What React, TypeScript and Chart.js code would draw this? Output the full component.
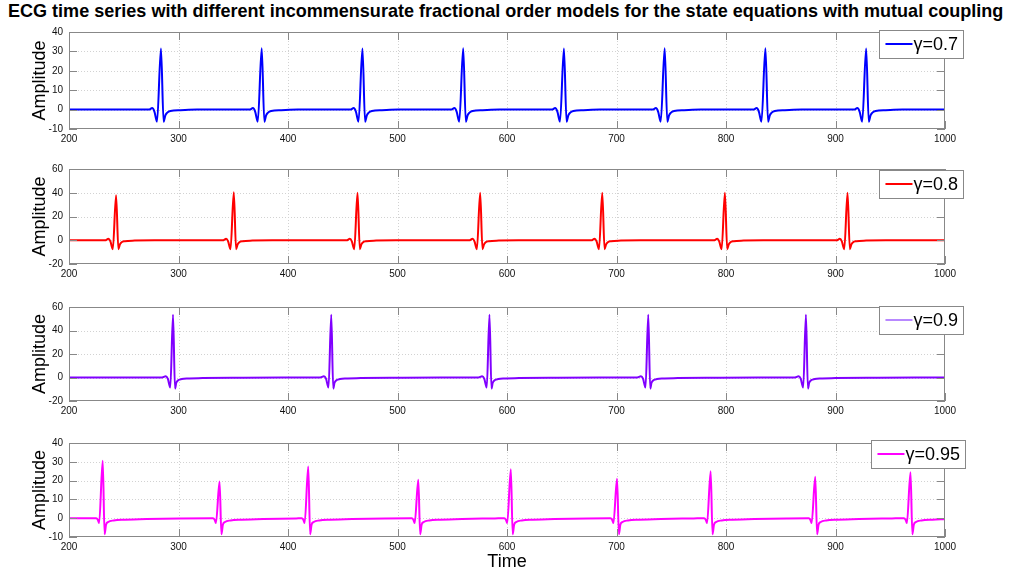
import React, { useEffect, useRef } from "react";
import { Chart, registerables } from "chart.js";

Chart.register(...registerables);

// ---------- data ----------
const xTickValues = [200, 300, 400, 500, 600, 700, 800, 900, 1000];

const blueTicks = [-10, 0, 10, 20, 30, 40];
const redTicks = [-20, 0, 20, 40, 60];
const purpleTicks = [-20, 0, 20, 40, 60];
const magentaTicks = [-10, 0, 10, 20, 30, 40];

const blueTime = [
  200,
  273, 276, 278, 280.4, 284, 286.4, 288, 289.5, 292.6, 301.7, 317,
  365, 368, 370, 372.4, 376, 378.4, 380, 381.5, 384.6, 393.7, 409,
  457, 460, 462, 464.4, 468, 470.4, 472, 473.5, 476.6, 485.7, 501,
  549, 552, 554, 556.4, 560, 562.4, 564, 565.5, 568.6, 577.7, 593,
  641, 644, 646, 648.4, 652, 654.4, 656, 657.5, 660.6, 669.7, 685,
  733, 736, 738, 740.4, 744, 746.4, 748, 749.5, 752.6, 761.7, 777,
  825, 828, 830, 832.4, 836, 838.4, 840, 841.5, 844.6, 853.7, 869,
  917, 920, 922, 924.4, 928, 930.4, 932, 933.5, 936.6, 945.7, 961,
  1000,
];
const blueAmp = [
  0,
  0, 0.8, -1, -6.2, 31.5, -6.3, -3, -1.7, -0.7, -0.3, 0,
  0, 0.8, -1, -6.2, 31.6, -6.3, -3, -1.7, -0.7, -0.3, 0,
  0, 0.8, -1, -6.2, 31.5, -6.3, -3, -1.7, -0.7, -0.3, 0,
  0, 0.8, -1, -6.2, 31.6, -6.3, -3, -1.7, -0.7, -0.3, 0,
  0, 0.8, -1, -6.2, 31.5, -6.3, -3, -1.7, -0.7, -0.3, 0,
  0, 0.8, -1, -6.2, 31.6, -6.3, -3, -1.7, -0.7, -0.3, 0,
  0, 0.8, -1, -6.2, 31.6, -6.3, -3, -1.7, -0.7, -0.3, 0,
  0, 0.8, -1, -6.2, 31.5, -6.3, -3, -1.7, -0.7, -0.3, 0,
  0,
];

const redTime = [
  200,
  233, 236, 237.8, 240, 243, 245.1, 246.5, 247.8, 251, 260, 278,
  340.5, 343.5, 345.3, 347.5, 350.5, 352.6, 354, 355.3, 358.5, 367.5, 385.5,
  453.5, 456.5, 458.3, 460.5, 463.5, 465.6, 467, 468.3, 471.5, 480.5, 498.5,
  565.5, 568.5, 570.3, 572.5, 575.5, 577.6, 579, 580.3, 583.5, 592.5, 610.5,
  677, 680, 681.8, 684, 687, 689.1, 690.5, 691.8, 695, 704, 722,
  789, 792, 793.8, 796, 799, 801.1, 802.5, 803.8, 807, 816, 834,
  901, 904, 905.8, 908, 911, 913.1, 914.5, 915.8, 919, 928, 946,
  1000,
];
const redAmp = [
  0,
  0, 1.2, -1, -7.5, 38, -7.5, -3.5, -1.8, -0.8, -0.3, 0,
  0, 1.2, -1, -7.5, 40.5, -7.5, -3.5, -1.8, -0.8, -0.3, 0,
  0, 1.2, -1, -7.5, 40, -7.5, -3.5, -1.8, -0.8, -0.3, 0,
  0, 1.2, -1, -7.5, 40, -7.5, -3.5, -1.8, -0.8, -0.3, 0,
  0, 1.2, -1, -7.5, 40, -7.5, -3.5, -1.8, -0.8, -0.3, 0,
  0, 1.2, -1, -7.5, 40, -7.5, -3.5, -1.8, -0.8, -0.3, 0,
  0, 1.2, -1, -7.5, 40, -7.5, -3.5, -1.8, -0.8, -0.3, 0,
  0,
];

const purpleTime = [
  200,
  285, 288.3, 290.2, 292.5, 295, 296.8, 298, 300, 303, 308, 322, 355, 395,
  429.5, 432.8, 434.7, 437, 439.5, 441.3, 442.5, 444.5, 447.5, 452.5, 466.5, 499.5, 539.5,
  574, 577.3, 579.2, 581.5, 584, 585.8, 587, 589, 592, 597, 611, 644, 684,
  719, 722.3, 724.2, 726.5, 729, 730.8, 732, 734, 737, 742, 756, 789, 829,
  863, 866.3, 868.2, 870.5, 873, 874.8, 876, 878, 881, 886, 900, 933, 973,
  1000,
];
const purpleAmp = [
  0,
  0, 1, -1, -8.6, 53.5, -9.4, -4.5, -2.2, -1.3, -0.8, -0.5, -0.2, 0,
  0, 1, -1, -8.6, 53.5, -9.4, -4.5, -2.2, -1.3, -0.8, -0.5, -0.2, 0,
  0, 1, -1, -8.6, 53.5, -9.4, -4.5, -2.2, -1.3, -0.8, -0.5, -0.2, 0,
  0, 1, -1, -8.6, 53.5, -9.4, -4.5, -2.2, -1.3, -0.8, -0.5, -0.2, 0,
  0, 1, -1, -8.6, 53.5, -9.4, -4.5, -2.2, -1.3, -0.8, -0.5, -0.2, 0,
  0,
];

const magentaTime = [
  200,
  224.8, 226.3, 227.5, 230.8, 232.5, 233.8, 235.8, 240.8, 250.8, 270.8, 300.8,
  331.5, 333, 334.2, 337.5, 339.2, 340.5, 342.5, 347.5, 357.5, 377.5, 407.5,
  412.5, 414, 415.2, 418.5, 420.2, 421.5, 423.5, 428.5, 438.5, 458.5, 488.5,
  513, 514.5, 515.7, 519, 520.7, 522, 524, 529, 539, 559, 589,
  597.5, 599, 600.2, 603.5, 605.2, 606.5, 608.5, 613.5, 623.5, 643.5, 673.5,
  694.5, 696, 697.2, 700.5, 702.2, 703.5, 705.5, 710.5, 720.5, 740.5, 770.5,
  780, 781.5, 782.7, 786, 787.7, 789, 791, 796, 806, 826, 856,
  875.5, 877, 878.2, 881.5, 883.2, 884.5, 886.5, 891.5, 901.5, 921.5, 951.5,
  962.5, 964, 965.2, 968.5, 970.2, 971.5, 973.5, 978.5, 988.5, 1000,
];
const magentaAmp = [
  0,
  0, -0.8, -2.6, 30.5, -8.5, -3.5, -2, -1.2, -0.8, -0.4, -0.1,
  0, -0.8, -2.6, 19.5, -8.5, -3.5, -2, -1.2, -0.8, -0.4, -0.1,
  0, -0.8, -2.6, 27.5, -8.5, -3.5, -2, -1.2, -0.8, -0.4, -0.1,
  0, -0.8, -2.6, 20.5, -8.5, -3.5, -2, -1.2, -0.8, -0.4, -0.1,
  0, -0.8, -2.6, 26, -8.5, -3.5, -2, -1.2, -0.8, -0.4, -0.1,
  0, -0.8, -2.6, 21, -8.5, -3.5, -2, -1.2, -0.8, -0.4, -0.1,
  0, -0.8, -2.6, 25, -8.5, -3.5, -2, -1.2, -0.8, -0.4, -0.1,
  0, -0.8, -2.6, 22, -8.5, -3.5, -2, -1.2, -0.8, -0.4, -0.1,
  0, -0.8, -2.6, 24.5, -8.5, -3.5, -2, -1.2, -0.8, -0.5,
];

const seriesLabels = ["γ=0.7", "γ=0.8", "γ=0.9", "γ=0.95"];
const titleText =
  "ECG time series with different incommensurate fractional order models for the state equations with mutual coupling";
const yAxisLabel = "Amplitude";
const xAxisLabel = "Time";

// ---------- layout / style ----------
const PAGE_W = 1010;
const PLOT_LEFT = 69;
const PLOT_RIGHT = 945;
const PAD_TOP = 10;
const X_AXIS_H = 20;

const panels = [
  { top: 30, bottom: 129, time: blueTime, amp: blueAmp, ticks: blueTicks, color: "#0000ff", legendColor: "#0000ff", legendLW: 2, label: seriesLabels[0], legendTop: 30, legendRight: 963 },
  { top: 167, bottom: 264, time: redTime, amp: redAmp, ticks: redTicks, color: "#ff0000", legendColor: "#ff0000", legendLW: 2, label: seriesLabels[1], legendTop: 170, legendRight: 963 },
  { top: 305, bottom: 401, time: purpleTime, amp: purpleAmp, ticks: purpleTicks, color: "#8000ff", legendColor: "#a060ff", legendLW: 1.5, label: seriesLabels[2], legendTop: 306, legendRight: 963 },
  { top: 441, bottom: 537, time: magentaTime, amp: magentaAmp, ticks: magentaTicks, color: "#ff00ff", legendColor: "#ff00ff", legendLW: 2, label: seriesLabels[3], legendTop: 440, legendRight: 965 },
];

const tickFont = { family: '"Liberation Sans Narrow", "Arial Narrow", Arial, sans-serif', size: 10 };
const AXIS_COLOR = "#888888";
const GRID_COLOR = "#d2d2d2";

function makePlugin(p: any) {
  return {
    id: "matlabDecor",
    beforeDatasetsDraw(chart: any) {
      const { ctx, chartArea: a, scales } = chart;
      const x = scales.x;
      const y = scales.y;
      ctx.save();
      ctx.strokeStyle = GRID_COLOR;
      ctx.lineWidth = 1;
      ctx.setLineDash([1, 2]);
      x.ticks.forEach((t: any) => {
        const px = Math.round(x.getPixelForValue(t.value)) + 0.5;
        if (px > a.left + 2 && px < a.right - 2) {
          ctx.beginPath();
          ctx.moveTo(px, a.top);
          ctx.lineTo(px, a.bottom);
          ctx.stroke();
        }
      });
      y.ticks.forEach((t: any) => {
        const py = Math.round(y.getPixelForValue(t.value)) + 0.5;
        if (py > a.top + 2 && py < a.bottom - 2) {
          ctx.beginPath();
          ctx.moveTo(a.left, py);
          ctx.lineTo(a.right, py);
          ctx.stroke();
        }
      });
      ctx.restore();
    },
    afterDatasetsDraw(chart: any) {
      const { ctx, chartArea: a, scales } = chart;
      const x = scales.x;
      const y = scales.y;
      ctx.save();
      // box
      ctx.strokeStyle = AXIS_COLOR;
      ctx.lineWidth = 1;
      ctx.setLineDash([]);
      ctx.strokeRect(a.left + 0.5, a.top + 0.5, a.right - a.left - 1, a.bottom - a.top - 1);
      // inside tick marks
      const TL = 8;
      ctx.beginPath();
      x.ticks.forEach((t: any) => {
        const px = Math.round(x.getPixelForValue(t.value)) + 0.5;
        ctx.moveTo(px, a.bottom);
        ctx.lineTo(px, a.bottom - TL);
        ctx.moveTo(px, a.top);
        ctx.lineTo(px, a.top + TL);
      });
      y.ticks.forEach((t: any) => {
        const py = Math.round(y.getPixelForValue(t.value)) + 0.5;
        ctx.moveTo(a.left, py);
        ctx.lineTo(a.left + TL, py);
        ctx.moveTo(a.right, py);
        ctx.lineTo(a.right - TL, py);
      });
      ctx.stroke();

      // y axis title
      ctx.save();
      ctx.translate(40, (a.top + a.bottom) / 2);
      ctx.rotate(-Math.PI / 2);
      ctx.font = "18px Arial, 'Liberation Sans', sans-serif";
      ctx.fillStyle = "#000";
      ctx.textAlign = "center";
      ctx.textBaseline = "middle";
      ctx.fillText(yAxisLabel, 0, 0);
      ctx.restore();

      // legend
      ctx.font = "18px Arial, 'Liberation Sans', sans-serif";
      const tw = ctx.measureText(p.label).width;
      const boxW = 6 + 27 + 1 + tw + 5;
      const boxH = 28;
      const bTop = p.legendTop - (p.top - PAD_TOP);
      const bLeft = p.legendRight - boxW;
      ctx.fillStyle = "#ffffff";
      ctx.fillRect(bLeft, bTop, boxW, boxH);
      ctx.strokeStyle = AXIS_COLOR;
      ctx.lineWidth = 1;
      ctx.strokeRect(Math.round(bLeft) + 0.5, Math.round(bTop) + 0.5, Math.round(boxW), boxH);
      ctx.strokeStyle = p.legendColor;
      ctx.lineWidth = p.legendLW;
      ctx.beginPath();
      ctx.moveTo(bLeft + 6, bTop + 14);
      ctx.lineTo(bLeft + 33, bTop + 14);
      ctx.stroke();
      ctx.fillStyle = "#000";
      ctx.textAlign = "left";
      ctx.textBaseline = "middle";
      ctx.fillText(p.label, bLeft + 34, bTop + 15);
      ctx.restore();
    },
  };
}

function Panel({ p }: { p: any }) {
  const ref = useRef<HTMLCanvasElement | null>(null);
  const canvasTop = p.top - PAD_TOP;
  const canvasH = p.bottom - p.top + PAD_TOP + X_AXIS_H;
  useEffect(() => {
    if (!ref.current) return;
    const points = p.time.map((t: number, i: number) => ({ x: t, y: p.amp[i] }));
    const chart = new Chart(ref.current, {
      type: "line",
      data: {
        datasets: [
          {
            label: p.label,
            data: points,
            borderColor: p.color,
            borderWidth: 2,
            pointRadius: 0,
            cubicInterpolationMode: "monotone",
            fill: false,
          },
        ],
      },
      options: {
        animation: false,
        responsive: false,
        devicePixelRatio: 1,
        layout: { padding: { top: PAD_TOP, left: 0, right: PAGE_W - PLOT_RIGHT, bottom: 0 } },
        plugins: { legend: { display: false }, tooltip: { enabled: false }, title: { display: false } },
        scales: {
          x: {
            type: "linear",
            min: 200,
            max: 1000,
            afterBuildTicks: (s: any) => {
              s.ticks = xTickValues.map((v) => ({ value: v }));
            },
            afterFit: (s: any) => {
              s.height = X_AXIS_H;
            },
            ticks: {
              font: tickFont,
              color: "#111111",
              padding: 4,
              maxRotation: 0,
              autoSkip: false,
              callback: (v: any) => String(v),
            },
            grid: { display: false, drawTicks: false },
            border: { display: false },
          },
          y: {
            type: "linear",
            min: p.ticks[0],
            max: p.ticks[p.ticks.length - 1],
            afterBuildTicks: (s: any) => {
              s.ticks = p.ticks.map((v: number) => ({ value: v }));
            },
            afterFit: (s: any) => {
              s.width = PLOT_LEFT;
            },
            ticks: { font: tickFont, color: "#111111", padding: 6, autoSkip: false, callback: (v: any) => String(v) },
            grid: { display: false, drawTicks: false },
            border: { display: false },
          },
        },
      },
      plugins: [makePlugin(p)],
    } as any);
    return () => chart.destroy();
  }, []);
  return (
    <canvas
      ref={ref}
      width={PAGE_W}
      height={canvasH}
      style={{ position: "absolute", left: 0, top: canvasTop, width: PAGE_W, height: canvasH }}
    />
  );
}

export default function App() {
  const titleRef = useRef<HTMLDivElement | null>(null);
  useEffect(() => {
    const el = titleRef.current;
    if (!el) return;
    const w = el.scrollWidth;
    const target = 995;
    el.style.transform = `scaleX(${target / w})`;
  }, []);
  return (
    <div style={{ position: "absolute", left: 0, top: 0, width: PAGE_W, height: 571, background: "#fff", overflow: "hidden" }}>
      <div
        ref={titleRef}
        style={{
          position: "absolute",
          left: 8,
          top: 1,
          whiteSpace: "nowrap",
          font: "bold 19px Arial, 'Liberation Sans', sans-serif",
          lineHeight: "19px",
          transformOrigin: "0 0",
          color: "#000",
        }}
      >
        {titleText}
      </div>
      {panels.map((p, i) => (
        <Panel key={i} p={p} />
      ))}
      <div
        style={{
          position: "absolute",
          left: (PLOT_LEFT + PLOT_RIGHT) / 2 - 50,
          width: 100,
          textAlign: "center",
          top: 552,
          font: "18px Arial, 'Liberation Sans', sans-serif",
          lineHeight: "18px",
          color: "#000",
        }}
      >
        {xAxisLabel}
      </div>
    </div>
  );
}
